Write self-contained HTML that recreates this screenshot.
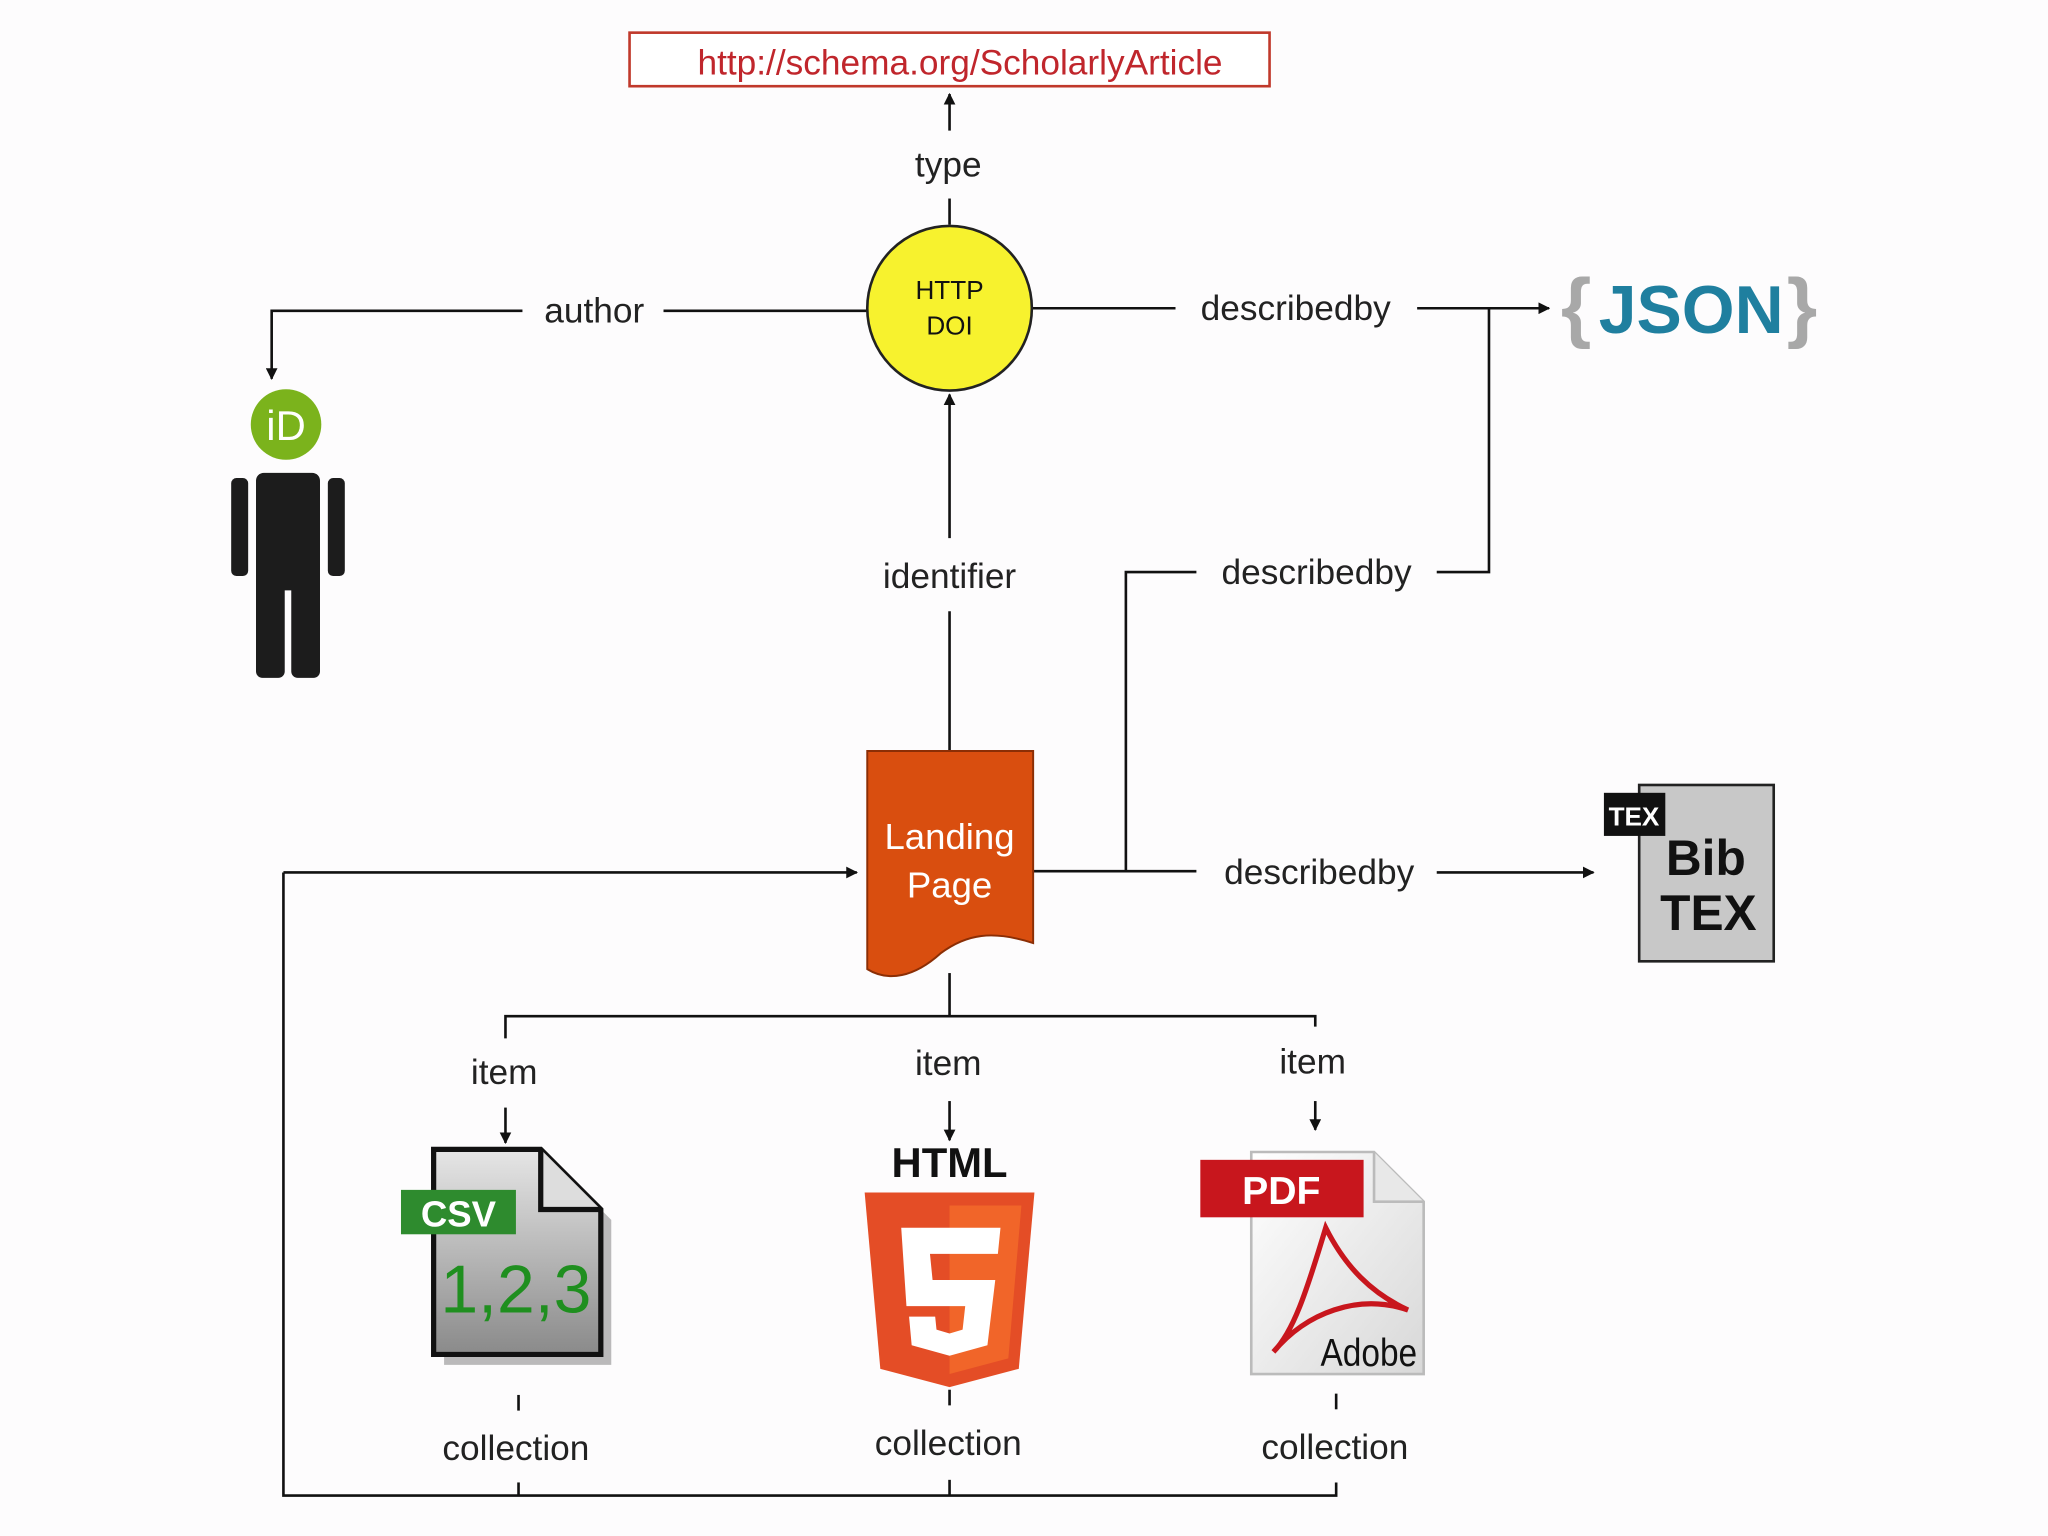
<!DOCTYPE html>
<html><head><meta charset="utf-8"><style>
html,body{margin:0;padding:0;background:#fdfcfd;}
svg{display:block;}
text{font-family:"Liberation Sans",sans-serif;}
</style></head><body>
<svg width="2048" height="1536" viewBox="0 0 1568 1176" xmlns="http://www.w3.org/2000/svg">
<defs>
<marker id="ar" viewBox="0 0 10 10" refX="9" refY="5" markerWidth="9" markerHeight="9" orient="auto-start-reverse" markerUnits="userSpaceOnUse"><path d="M0,0 L10,5 L0,10 z" fill="#111"/></marker>
<linearGradient id="csvg" x1="0" y1="0" x2="0" y2="1"><stop offset="0" stop-color="#e6e6e6"/><stop offset="1" stop-color="#8a8a8a"/></linearGradient>
<linearGradient id="pdfg" x1="0" y1="0" x2="1" y2="1"><stop offset="0" stop-color="#ffffff"/><stop offset="1" stop-color="#d8d8d8"/></linearGradient>
</defs>
<rect width="1568" height="1176" fill="#fdfcfd"/>
<g stroke="#111" stroke-width="2" fill="none">
<line x1="727" y1="100" x2="727" y2="72" marker-end="url(#ar)"/>
<line x1="727" y1="152" x2="727" y2="172"/>
<polyline points="664,238 508,238"/>
<polyline points="400,238 208,238 208,290" marker-end="url(#ar)"/>
<line x1="790" y1="236" x2="900" y2="236"/>
<line x1="1085" y1="236" x2="1186" y2="236" marker-end="url(#ar)"/>
<polyline points="1140,236 1140,438 1100,438"/>
<polyline points="916,438 862,438 862,667"/>
<line x1="727" y1="575" x2="727" y2="468"/>
<line x1="727" y1="412" x2="727" y2="302" marker-end="url(#ar)"/>
<line x1="791" y1="667" x2="916" y2="667"/>
<line x1="1100" y1="668" x2="1220" y2="668" marker-end="url(#ar)"/>
<line x1="727" y1="745" x2="727" y2="778"/>
<polyline points="387,795 387,778 1007,778 1007,786"/>
<line x1="387" y1="848" x2="387" y2="875" marker-end="url(#ar)"/>
<line x1="727" y1="843" x2="727" y2="873" marker-end="url(#ar)"/>
<line x1="1007" y1="843" x2="1007" y2="865" marker-end="url(#ar)"/>
<line x1="397" y1="1068" x2="397" y2="1080"/>
<line x1="727" y1="1064" x2="727" y2="1076"/>
<line x1="1023" y1="1067" x2="1023" y2="1079"/>
<polyline points="397,1135 397,1145"/>
<polyline points="727,1133 727,1145"/>
<polyline points="217,668 217,1145 1023,1145 1023,1135"/>
<line x1="217" y1="668" x2="656" y2="668" marker-end="url(#ar)"/>
</g>
<rect x="482" y="25" width="490" height="41" fill="#fff" stroke="#c0392b" stroke-width="2"/>
<text x="735" y="57" font-size="27" fill="#c0262c" text-anchor="middle">http://schema.org/ScholarlyArticle</text>
<g font-size="27" fill="#222" text-anchor="middle">
<text x="726" y="135">type</text>
<text x="455" y="247">author</text>
<text x="992" y="245">describedby</text>
<text x="1008" y="447">describedby</text>
<text x="727" y="450">identifier</text>
<text x="1010" y="677">describedby</text>
<text x="386" y="830">item</text>
<text x="726" y="823">item</text>
<text x="1005" y="822">item</text>
<text x="395" y="1118">collection</text>
<text x="726" y="1114">collection</text>
<text x="1022" y="1117">collection</text>
</g>
<circle cx="727" cy="236" r="63" fill="#f7f22e" stroke="#222" stroke-width="2"/>
<text x="727" y="229" font-size="20" text-anchor="middle" fill="#111">HTTP</text>
<text x="727" y="256" font-size="20" text-anchor="middle" fill="#111">DOI</text>
<circle cx="219" cy="325" r="27" fill="#7bb31c"/>
<text x="219" y="337" font-size="32" fill="#fff" text-anchor="middle">iD</text>
<rect x="196" y="362" width="49" height="90" rx="6" fill="#1c1c1c"/>
<rect x="177" y="366" width="13" height="75" rx="4" fill="#1c1c1c"/>
<rect x="251" y="366" width="13" height="75" rx="4" fill="#1c1c1c"/>
<rect x="196" y="440" width="22" height="79" rx="5" fill="#1c1c1c"/>
<rect x="223" y="440" width="22" height="79" rx="5" fill="#1c1c1c"/>
<text x="1195" y="255" font-size="60" fill="#a8a8a8" font-weight="bold">{</text>
<text x="1224" y="255" font-size="52" fill="#1f7f9f" font-weight="bold">JSON</text>
<text x="1368" y="255" font-size="60" fill="#a8a8a8" font-weight="bold">}</text>
<path d="M664,575 L791,575 L791,722 C760,712 740,715 720,730 C700,748 680,752 664,742 Z" fill="#d94e0f" stroke="#8b2e05" stroke-width="1.5"/>
<text x="727" y="650" font-size="28" fill="#fff" text-anchor="middle">Landing</text>
<text x="727" y="687" font-size="28" fill="#fff" text-anchor="middle">Page</text>
<rect x="1255" y="601" width="103" height="135" fill="#c8c8c8" stroke="#222" stroke-width="2"/>
<rect x="1228" y="607" width="47" height="33" fill="#111"/>
<text x="1251" y="632" font-size="20" fill="#fff" text-anchor="middle" font-family="Liberation Serif,serif" font-weight="bold">TEX</text>
<text x="1306" y="670" font-size="38" fill="#111" text-anchor="middle" font-family="Liberation Serif,serif" font-weight="bold">Bib</text>
<text x="1308" y="712" font-size="38" fill="#111" text-anchor="middle" font-family="Liberation Serif,serif" font-weight="bold">TEX</text>
<path d="M340,888 L422,888 L468,934 L468,1045 L340,1045 Z" fill="#555" opacity="0.4"/>
<path d="M332,880 L414,880 L460,926 L460,1037 L332,1037 Z" fill="url(#csvg)" stroke="#111" stroke-width="4"/>
<path d="M414,880 L414,926 L460,926" fill="#ddd" stroke="#111" stroke-width="4"/>
<rect x="307" y="911" width="88" height="34" fill="#2e8b2e"/>
<text x="351" y="939" font-size="28" font-weight="bold" fill="#fff" text-anchor="middle">CSV</text>
<text x="395" y="1005" font-size="52" fill="#1f8f1f" text-anchor="middle" font-family="Liberation Mono,monospace">1,2,3</text>
<text x="727" y="901" font-size="32" font-weight="bold" fill="#111" text-anchor="middle">HTML</text>
<path d="M662,913 L792,913 L780,1048 L727,1062 L674,1048 Z" fill="#e44d26"/>
<path d="M727,923 L782,923 L772,1040 L727,1052 Z" fill="#f16529"/>
<path d="M690,940 L766,940 L764,960 L712,960 L714,980 L762,980 L756,1030 L727,1038 L698,1030 L696,1008 L716,1008 L717,1018 L727,1021 L737,1018 L739,1000 L694,1000 Z" fill="#fff"/>
<path d="M958,882 L1052,882 L1090,920 L1090,1052 L958,1052 Z" fill="url(#pdfg)" stroke="#bbb" stroke-width="2"/>
<path d="M1052,882 L1052,920 L1090,920" fill="#e8e8e8" stroke="#bbb" stroke-width="2"/>
<rect x="919" y="888" width="125" height="44" fill="#c8161d"/>
<text x="981" y="922" font-size="30" font-weight="bold" fill="#fff" text-anchor="middle">PDF</text>
<path d="M1015,940 C1000,990 990,1020 975,1035 C1000,1005 1040,990 1078,1003 C1050,990 1030,970 1015,940 Z" fill="none" stroke="#c8161d" stroke-width="4"/>
<text x="1048" y="1046" font-size="30" fill="#111" text-anchor="middle" textLength="74" lengthAdjust="spacingAndGlyphs">Adobe</text>
</svg>
</body></html>
